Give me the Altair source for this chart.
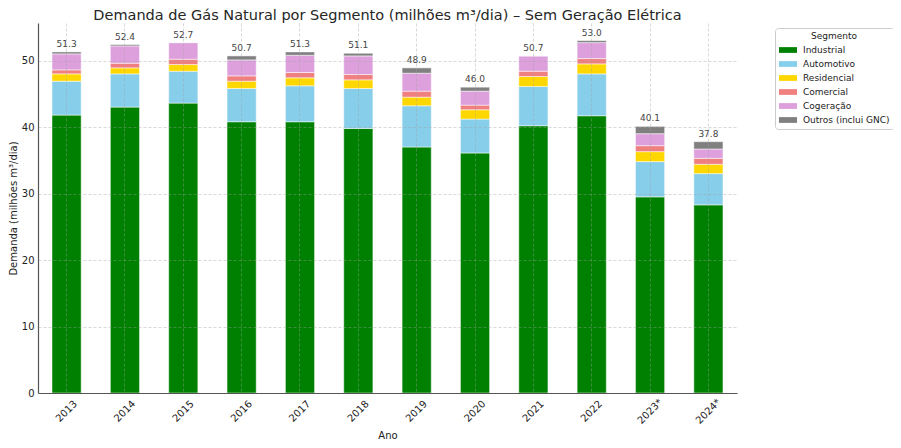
import altair as alt
import pandas as pd

anos = ["2013", "2014", "2015", "2016", "2017", "2018", "2019", "2020", "2021", "2022", "2023*", "2024*"]
segmentos = ["Industrial", "Automotivo", "Residencial", "Comercial", "Cogeração", "Outros (inclui GNC)"]
cores = ["#008000", "#87CEEB", "#FFD700", "#F08080", "#DDA0DD", "#808080"]

industrial = [41.8, 43.0, 43.6, 40.8, 40.8, 39.8, 37.0, 36.1, 40.2, 41.7, 29.5, 28.3]
automotivo = [5.1, 5.0, 4.8, 5.0, 5.4, 6.0, 6.2, 5.1, 5.9, 6.3, 5.3, 4.7]
residencial = [1.1, 0.9, 1.0, 1.1, 1.2, 1.3, 1.3, 1.4, 1.5, 1.5, 1.5, 1.4]
comercial = [0.6, 0.7, 0.8, 0.8, 0.8, 0.8, 0.9, 0.7, 0.8, 0.8, 0.9, 0.9]
cogeracao = [2.4, 2.6, 2.5, 2.4, 2.6, 2.8, 2.7, 2.1, 2.3, 2.4, 1.8, 1.4]
outros = [0.3, 0.2, 0.0, 0.6, 0.5, 0.4, 0.8, 0.6, 0.0, 0.3, 1.1, 1.1]

series = [industrial, automotivo, residencial, comercial, cogeracao, outros]
rows = []
for k, (seg, vals) in enumerate(zip(segmentos, series)):
    for ano, v in zip(anos, vals):
        rows.append({"ano": ano, "segmento": seg, "valor": v, "ordem": k})
df = pd.DataFrame(rows)

FONT = "DejaVu Sans"
GRID = dict(grid=True, gridColor="#a0a0a0", gridOpacity=0.5, gridDash=[3, 2], gridWidth=0.8)

x_enc = alt.X(
    "ano:N",
    sort=anos,
    scale=alt.Scale(paddingInner=0.5, paddingOuter=0.24),
    axis=alt.Axis(
        title="Ano",
        labelAngle=-45,
        labelAlign="center",
        labelBaseline="middle",
        labelPadding=18,
        ticks=False,
        bandPosition=0.5,
        domainColor="#555555",
        domainWidth=1.2,
        labelFontSize=10,
        labelColor="#222222",
        titleFontSize=10,
        titleFontWeight="normal",
        titleColor="#222222",
        titleY=42,
        titleBaseline="middle",
        zindex=1,
        **GRID,
    ),
)

y_enc = alt.Y(
    "valor:Q",
    stack="zero",
    scale=alt.Scale(domain=[0, 55.65], nice=False, zero=True),
    axis=alt.Axis(
        title="Demanda (milhões m³/dia)",
        values=[0, 10, 20, 30, 40, 50],
        ticks=False,
        labelPadding=4,
        domainColor="#555555",
        domainWidth=1.2,
        labelFontSize=10,
        labelColor="#222222",
        titleFontSize=10,
        titleFontWeight="normal",
        titleColor="#222222",
        titleAngle=-90,
        titleBaseline="bottom",
        titleAlign="center",
        titleX=-20,
        titleY=185,
        zindex=1,
        **GRID,
    ),
)

bars = alt.Chart(df).mark_bar(stroke="white", strokeWidth=0.5).encode(
    x=x_enc,
    y=y_enc,
    color=alt.Color(
        "segmento:N",
        scale=alt.Scale(domain=segmentos, range=cores),
        legend=alt.Legend(
            title="Segmento",
            orient="none",
            legendX=737,
            legendY=5,
            titleAnchor="middle",
            titleFontWeight="normal",
            titleFontSize=9,
            titleColor="#222222",
            labelFontSize=9,
            labelColor="#222222",
            symbolType="M-1,-0.32H1V0.32H-1Z",
            symbolSize=324,
            symbolStrokeWidth=0,
            symbolOpacity=1,
            padding=4,
            strokeColor="#cccccc",
            fillColor="white",
            cornerRadius=3,
            rowPadding=-4.5,
            titlePadding=0,
            labelOffset=6,
        ),
    ),
    order=alt.Order("ordem:Q"),
)

labels = alt.Chart(df).transform_aggregate(
    total="sum(valor)", groupby=["ano"]
).mark_text(fontSize=9, color="#444444", baseline="alphabetic", dy=-5, font=FONT).encode(
    x=alt.X("ano:N", sort=anos),
    y=alt.Y("total:Q"),
    text=alt.Text("total:Q", format=".1f"),
)

chart = alt.layer(bars, labels).properties(
    width=699,
    height=370,
    autosize=alt.AutoSizeParams(type="none"),
    padding={"left": 30, "top": 15, "right": 156, "bottom": 47},
    title=alt.TitleParams(
        "Demanda de Gás Natural por Segmento (milhões m³/dia) – Sem Geração Elétrica",
        fontSize=14.5,
        fontWeight="normal",
        font=FONT,
        color="#262626",
        anchor="middle",
        frame="group",
        offset=0,
    ),
).configure(font=FONT).configure_view(stroke=None)

chart.save("out.html", embed_options={"renderer": "svg", "actions": False})
